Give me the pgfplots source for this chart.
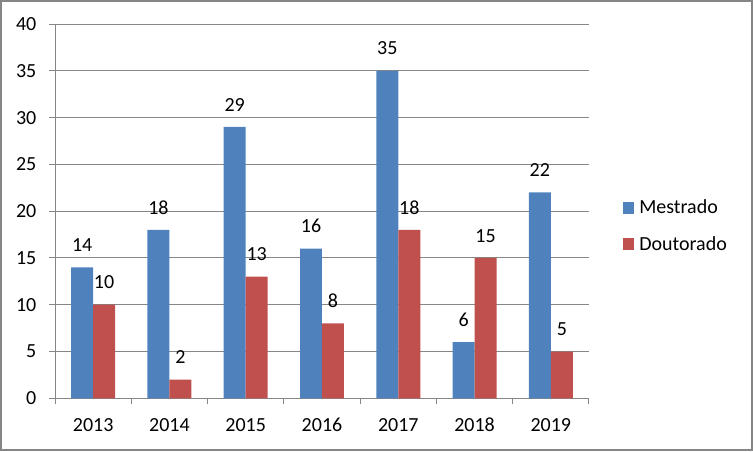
\documentclass[border=0pt]{standalone}
\usepackage{fontspec}
\setmainfont{Carlito}
\usepackage{pgfplots}
\pgfplotsset{compat=1.18}
\definecolor{barblue}{HTML}{4F81BD}
\definecolor{barred}{HTML}{C0504D}
\definecolor{gridgray}{HTML}{868686}
\pgfplotsset{sqlegend/.style={legend image code/.code={\fill[##1] (0pt,-4.5pt) rectangle (8.25pt,4.5pt);}}}
\begin{document}
\begin{tikzpicture}
\begin{scope}[x=0.75pt,y=0.75pt]
\useasboundingbox (-55,-52.7) rectangle (698,398.3);
\draw[gridgray, line width=1.5pt] (-54,-51.7) rectangle (697,397.3);
\end{scope}
\begin{axis}[
  at={(0,0)}, anchor=south west,
  scale only axis, width=400.5pt, height=280.7pt,
  xmin=-0.5, xmax=6.5, ymin=0, ymax=40,
  ytick={0,5,...,40},
  xtick={-0.5,0.5,1.5,2.5,3.5,4.5,5.5,6.5},
  xticklabels={2013,2014,2015,2016,2017,2018,2019},
  x tick label as interval,
  axis x line*=bottom, axis y line*=left,
  axis line style={gridgray, line width=0.75pt, -},
  ymajorgrids, grid style={gridgray, line width=0.75pt},
  tick align=outside, major tick length=4.5pt,
  tick style={gridgray, line width=0.75pt},
  ticklabel style={font=\fontsize{15}{18}\selectfont, text=black},
  xticklabel style={text height=9.5pt, text depth=0pt, anchor=north, yshift=-7.5pt},
  yticklabel style={xshift=-6pt},
  /pgf/number format/assume math mode=true,
  ybar, bar width=0.288,
  nodes near coords,
  nodes near coords style={font=\fontsize{15}{18}\selectfont, text=black, inner sep=0pt, anchor=south, yshift=11.6pt},
  legend style={at={(1.0637,0.46)}, anchor=west, draw=none, fill=none, inner sep=0pt,
    font=\fontsize{15}{18}\selectfont, row sep=15.5pt, nodes={inner sep=0pt}, column sep=3.75pt},
  legend cell align=left,
]
\addplot[fill=barblue, draw=none, bar shift=-0.144, sqlegend] coordinates {(0,14) (1,18) (2,29) (3,16) (4,35) (5,6) (6,22)};
\addlegendentry{Mestrado}
\addplot[fill=barred, draw=none, bar shift=0.144, sqlegend] coordinates {(0,10) (1,2) (2,13) (3,8) (4,18) (5,15) (6,5)};
\addlegendentry{Doutorado}
\end{axis}
\end{tikzpicture}
\end{document}
